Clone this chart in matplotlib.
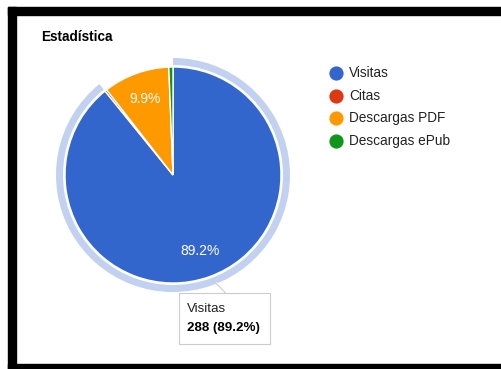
import matplotlib
matplotlib.use("Agg")
import matplotlib.pyplot as plt
from matplotlib.patches import Wedge, Rectangle, Polygon

plt.rcParams['font.family'] = ['Liberation Sans', 'DejaVu Sans']

# data
categories = ["Visitas", "Citas", "Descargas PDF", "Descargas ePub"]
values = [288, 1, 32, 2]
colors = ["#3366cc", "#dc3912", "#ff9900", "#109618"]
title = "Estadística"

W, H = 502, 369
fig = plt.figure(figsize=(W / 100, H / 100), dpi=100)
ax = fig.add_axes([0, 0, 1, 1])

def py(y):
    # pixel row (from top) -> data y
    return H - y

cx, cy, r = 173, py(175), 108
total = sum(values)

wedges, texts, autotexts = ax.pie(
    values, colors=colors, startangle=90, counterclock=False,
    center=(cx, cy), radius=r, frame=True,
    autopct=lambda p: ('%.1f%%' % p) if p > 5 else '',
    pctdistance=0.75,
    wedgeprops=dict(edgecolor='white', linewidth=1),
    textprops=dict(color='white', fontsize=10))
ax.set_xlim(0, W)
ax.set_ylim(0, H)
ax.set_aspect('equal')
ax.axis('off')

# black frame of the screenshot
ax.add_patch(Rectangle((8, py(15)), W - 8, 8, color='black', zorder=1))
ax.add_patch(Rectangle((8, 0), 8, py(7), color='black', zorder=1))
ax.add_patch(Rectangle((8, 0), W - 8, py(364), color='black', zorder=1))

# hover ring around the first slice
t1 = 90
t0 = 90 - 360 * values[0] / total
ax.add_patch(Wedge((cx, cy), r + 9, t0, t1, width=7, color='#c2d1f0',
                   linewidth=0, zorder=0))

# title
ax.text(41, py(37), title, fontsize=9.8, fontweight='bold', color='black',
        va='center', ha='left')

# legend
for i, (name, c) in enumerate(zip(categories, colors)):
    y = py(73 + i * 22.6)
    ax.scatter([336], [y], s=105, color=c, linewidths=0, zorder=3)
    ax.text(349, y, name, fontsize=9.8, color='#222222', va='center', ha='left')

# tooltip
bx0, bx1, by0, by1 = 179, 270, 293, 344
ax.add_patch(Rectangle((bx0 + 1, py(by1) - 1), bx1 - bx0, by1 - by0,
                       facecolor='#dddddd', edgecolor='none', zorder=4))
ax.add_patch(Rectangle((bx0, py(by1)), bx1 - bx0, by1 - by0,
                       facecolor='white', edgecolor='#cccccc', linewidth=0.8, zorder=5))
ax.add_patch(Polygon([(214, py(281)), (226, py(293.5)), (240, py(293.5))],
                     closed=False, facecolor='white', edgecolor='#cccccc',
                     linewidth=0.8, zorder=6))
ax.text(187, py(309), categories[0], fontsize=9.6, color='#222222',
        va='center', ha='left', zorder=7)
ax.text(187, py(328), '%d (%.1f%%)' % (values[0], 100 * values[0] / total),
        fontsize=9.6, fontweight='bold', color='black', va='center', ha='left', zorder=7)

fig.savefig('out.png', dpi=100)
